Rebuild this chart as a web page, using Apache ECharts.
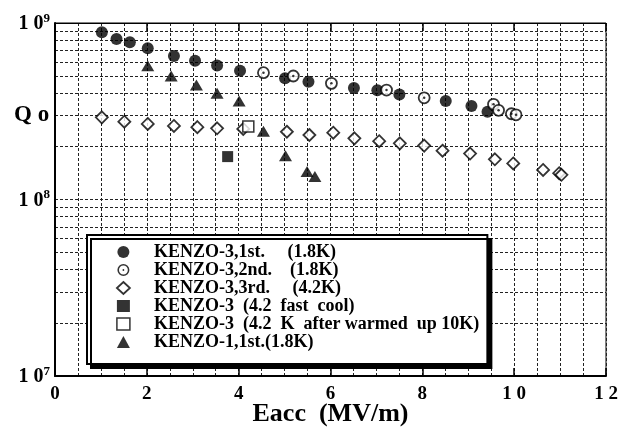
<!DOCTYPE html>
<html>
<head>
<meta charset="utf-8">
<script src="https://cdn.jsdelivr.net/npm/echarts@6/dist/echarts.min.js"></script>
<style>
html, body { margin: 0; padding: 0; background: #fff; }
#main { width: 632px; height: 431px; }
</style>
</head>
<body>
<div id="main"></div>
<script>
// KENZO-3, 1st (1.8K) - filled circles
const k3FirstE = [1.02, 1.34, 1.63, 2.02, 2.59, 3.05, 3.53, 4.03, 5.01, 5.52, 6.51, 7.02, 7.50, 8.51, 9.07, 9.42];
const k3FirstQ = [8.86e8, 8.11e8, 7.77e8, 7.19e8, 6.5e8, 6.12e8, 5.75e8, 5.37e8, 4.86e8, 4.65e8, 4.28e8, 4.16e8, 3.93e8, 3.61e8, 3.39e8, 3.14e8];

// KENZO-3, 2nd (1.8K) - dotted open circles
const k3SecondE = [4.54, 5.19, 6.02, 7.22, 8.04, 9.55, 9.66, 9.94, 10.04];
const k3SecondQ = [5.23e8, 5.01e8, 4.55e8, 4.17e8, 3.77e8, 3.46e8, 3.2e8, 3.06e8, 3.02e8];

// KENZO-3, 3rd (4.2K) - open diamonds
const k3ThirdE = [1.02, 1.51, 2.02, 2.59, 3.10, 3.53, 4.10, 5.05, 5.54, 6.06, 6.52, 7.06, 7.51, 8.04, 8.44, 9.04, 9.58, 9.98, 10.63, 10.98, 11.03];
const k3ThirdQ = [2.92e8, 2.76e8, 2.68e8, 2.61e8, 2.57e8, 2.53e8, 2.51e8, 2.42e8, 2.32e8, 2.39e8, 2.22e8, 2.14e8, 2.08e8, 2.02e8, 1.89e8, 1.82e8, 1.69e8, 1.60e8, 1.47e8, 1.41e8, 1.38e8];

// KENZO-3 (4.2 fast cool) - filled square
const k3FastE = [3.76];
const k3FastQ = [1.75e8];

// KENZO-3 (4.2 K after warmed up 10K) - open square
const k3WarmE = [4.21];
const k3WarmQ = [2.59e8];

// KENZO-1, 1st (1.8K) - filled triangles
const k1FirstE = [2.02, 2.53, 3.08, 3.53, 4.01, 4.54, 5.02, 5.49, 5.66];
const k1FirstQ = [5.73e8, 5.01e8, 4.45e8, 4.0e8, 3.61e8, 2.44e8, 1.77e8, 1.44e8, 1.35e8];

const names = [
  'KENZO-3,1st.     (1.8K)',
  'KENZO-3,2nd.    (1.8K)',
  'KENZO-3,3rd.     (4.2K)',
  'KENZO-3  (4.2  fast  cool)',
  'KENZO-3  (4.2  K  after warmed  up 10K)',
  'KENZO-1,1st.(1.8K)'
];

const xTicks = [0, 2, 4, 6, 8, 10, 12];

const serif = 'Liberation Serif';
const dotted = { type: [3, 2], color: '#222', width: 1 };

function pairs(xs, ys) {
  return xs.map((x, i) => [x, ys[i]]);
}

const ringPath = 'path://M12,2A10,10,0,1,1,12,22A10,10,0,1,1,12,2Z' +
  'M12,4.6A7.4,7.4,0,1,0,12,19.4A7.4,7.4,0,1,0,12,4.6Z' +
  'M12,10.5A1.5,1.5,0,1,1,12,13.5A1.5,1.5,0,1,1,12,10.5Z';

const chart = echarts.init(document.getElementById('main'));

const option = {
  animation: false,
  backgroundColor: '#fff',
  title: {
    text: 'Q o',
    left: 14,
    top: 104,
    padding: 0,
    textStyle: { fontFamily: serif, fontWeight: 'bold', fontSize: 23, color: '#000' }
  },
  grid: {
    left: 55, right: 26, top: 23, bottom: 55,
    outerBoundsMode: 'none',
    containLabel: false,
    show: true, borderColor: '#000', borderWidth: 1, backgroundColor: 'transparent'
  },
  legend: {
    orient: 'vertical',
    left: 87,
    top: 235,
    padding: [8, 8, 13, 29],
    itemWidth: 13,
    itemHeight: 12,
    itemGap: 0,
    selectedMode: false,
    backgroundColor: '#fff',
    borderColor: '#000',
    borderWidth: 2,
    shadowColor: '#000',
    shadowBlur: 0,
    shadowOffsetX: 4,
    shadowOffsetY: 4,
    formatter: name => '{g|}' + name,
    textStyle: {
      fontFamily: serif, fontWeight: 'bold', fontSize: 18, lineHeight: 18, color: '#000',
      rich: { g: { width: 19 } }
    },
    data: [
      { name: names[0] },
      { name: names[1], icon: ringPath, itemStyle: { color: '#000', borderWidth: 0 } },
      { name: names[2], itemStyle: { color: '#fff', borderColor: '#000', borderWidth: 1.8 } },
      { name: names[3] },
      { name: names[4], itemStyle: { color: '#fff', borderColor: '#000', borderWidth: 1.5 } },
      { name: names[5] }
    ]
  },
  xAxis: [
    {
      type: 'value',
      min: 0, max: 12, interval: 2,
      name: 'Eacc  (MV/m)',
      nameLocation: 'middle',
      nameGap: 25,
      nameMoveOverlap: false,
      nameTextStyle: { fontFamily: serif, fontWeight: 'bold', fontSize: 26, color: '#000', verticalAlign: 'top' },
      axisLine: { show: true, lineStyle: { color: '#000', width: 2 } },
      axisTick: { show: true, inside: true, length: 8, lineStyle: { color: '#000', width: 1.5 } },
      minorTick: { show: false, splitNumber: 4 },
      splitLine: { show: true, lineStyle: dotted },
      minorSplitLine: { show: true, lineStyle: dotted },
      axisLabel: {
        margin: 9,
        fontFamily: serif, fontWeight: 'bold', fontSize: 19, color: '#000',
        formatter: v => (xTicks.indexOf(v) >= 0 && v >= 10) ? String(v).split('').join(' ') : String(v)
      }
    },
    {
      type: 'value',
      position: 'top',
      min: 0, max: 12, interval: 2,
      axisLine: { show: true, lineStyle: { color: '#000', width: 1 } },
      axisTick: { show: true, inside: true, length: 8, lineStyle: { color: '#000', width: 1.5 } },
      splitLine: { show: false },
      axisLabel: { show: false }
    }
  ],
  yAxis: {
    type: 'log',
    logBase: 10,
    min: 1e7, max: 1e9,
    axisLine: { show: true, lineStyle: { color: '#000', width: 2 } },
    axisTick: { show: false },
    minorTick: { show: false, splitNumber: 9 },
    splitLine: { show: true, lineStyle: dotted },
    minorSplitLine: { show: true, lineStyle: dotted },
    axisLabel: {
      margin: 5,
      formatter: v => '{b|1 0}{s|' + Math.round(Math.log10(v)) + '}',
      rich: {
        b: { fontFamily: serif, fontWeight: 'bold', fontSize: 20, color: '#000', lineHeight: 22, verticalAlign: 'bottom' },
        s: { fontFamily: serif, fontWeight: 'bold', fontSize: 13, color: '#000', lineHeight: 22, verticalAlign: 'top' }
      }
    }
  },
  series: [
    {
      name: names[2], type: 'scatter', symbol: 'diamond', symbolSize: 12,
      itemStyle: { color: '#fff', borderColor: '#000', borderWidth: 1.8 },
      data: pairs(k3ThirdE, k3ThirdQ)
    },
    {
      name: names[0], type: 'scatter', symbol: 'circle', symbolSize: 12,
      itemStyle: { color: '#000' },
      data: pairs(k3FirstE, k3FirstQ)
    },
    {
      name: names[1], type: 'scatter', symbol: 'circle', symbolSize: 11,
      itemStyle: { color: '#fff', borderColor: '#000', borderWidth: 1.8 },
      data: pairs(k3SecondE, k3SecondQ)
    },
    {
      name: 'centre dots', type: 'scatter', symbol: 'circle', symbolSize: 2.5,
      itemStyle: { color: '#000' },
      data: pairs(k3SecondE, k3SecondQ)
    },
    {
      name: names[3], type: 'scatter', symbol: 'rect', symbolSize: 11,
      itemStyle: { color: '#000' },
      data: pairs(k3FastE, k3FastQ)
    },
    {
      name: names[4], type: 'scatter', symbol: 'rect', symbolSize: 11,
      itemStyle: { color: '#fff', borderColor: '#000', borderWidth: 1.5 },
      data: pairs(k3WarmE, k3WarmQ)
    },
    {
      name: names[5], type: 'scatter', symbol: 'triangle', symbolSize: [13, 11],
      itemStyle: { color: '#000' },
      data: pairs(k1FirstE, k1FirstQ)
    }
  ]
};

chart.setOption(option);
</script>
</body>
</html>
